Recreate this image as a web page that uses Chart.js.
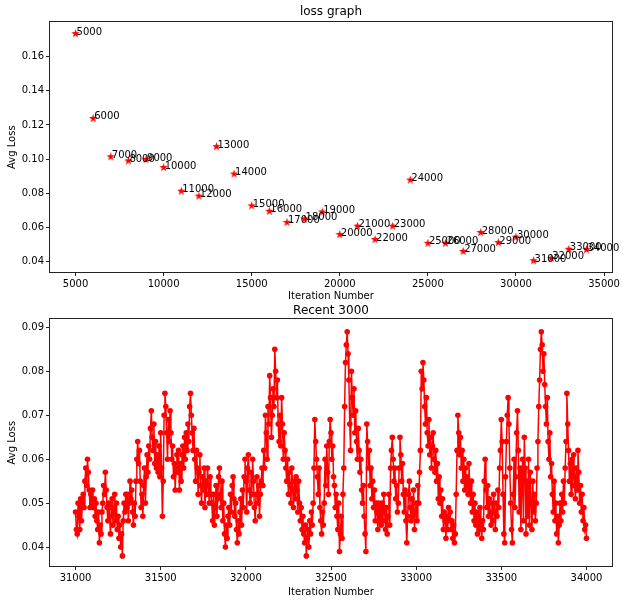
<!DOCTYPE html>
<html>
<head>
<meta charset="utf-8">
<script src="https://cdn.jsdelivr.net/npm/chart.js@4.4.0/dist/chart.umd.min.js"></script>
<style>
  body { margin: 0; background: #fff; }
  #wrap { position: relative; width: 623px; height: 604px; }
  canvas { position: absolute; left: 0; }
  #lossChart { top: 0; }
  #recentChart { top: 304px; }
</style>
</head>
<body>
<div id="wrap">
  <canvas id="lossChart" width="623" height="304"></canvas>
  <canvas id="recentChart" width="623" height="300"></canvas>
</div>
<script>
// top plot: avg loss every 1000 iterations
const lossIters = [5000, 6000, 7000, 8000, 9000, 10000, 11000, 12000, 13000, 14000,
  15000, 16000, 17000, 18000, 19000, 20000, 21000, 22000, 23000, 24000,
  25000, 26000, 27000, 28000, 29000, 30000, 31000, 32000, 33000, 34000];
const lossValues = [0.1734, 0.1238, 0.1014, 0.0990, 0.0998, 0.0951, 0.0813, 0.0784, 0.1073, 0.0913,
  0.0727, 0.0695, 0.0630, 0.0650, 0.0691, 0.0559, 0.0608, 0.0530, 0.0608, 0.0878,
  0.0508, 0.0508, 0.0461, 0.0571, 0.0512, 0.0544, 0.0406, 0.0420, 0.0473, 0.0471];
const lossXTicks = [5000, 10000, 15000, 20000, 25000, 30000, 35000];
const lossYTicks = [0.04, 0.06, 0.08, 0.10, 0.12, 0.14, 0.16];

// bottom plot: last 3000 iterations, one reading every 5 iterations (20 per row)
const recentStart = 31000;
const recentStep = 5;
const recentLoss = [
  .048, .044, .043, .050, .047, .044, .051, .046, .050, .052, .049, .055, .058, .054, .060, .057, .053, .049, .052, .050, // 31000
  .053, .049, .051, .047, .050, .046, .044, .048, .041, .045, .043, .048, .050, .054, .052, .057, .053, .049, .046, .050,
  .047, .043, .049, .051, .045, .048, .052, .046, .050, .044, .047, .042, .045, .040, .043, .038, .046, .050, .048, .052,
  .049, .052, .046, .050, .055, .051, .053, .048, .045, .050, .047, .055, .060, .064, .059, .062, .055, .049, .052, .047,
  .054, .058, .050, .056, .061, .057, .063, .060, .067, .071, .065, .062, .068, .059, .064, .058, .061, .057, .063, .056,
  .066, .058, .047, .055, .070, .075, .072, .066, .060, .069, .064, .071, .066, .060, .063, .056, .059, .053, .058, .061, // 31500
  .057, .062, .053, .059, .055, .061, .063, .058, .065, .060, .066, .062, .068, .064, .072, .075, .070, .066, .062, .067,
  .060, .055, .062, .058, .052, .057, .061, .054, .050, .056, .053, .058, .049, .055, .052, .058, .054, .050, .056, .052,
  .050, .046, .052, .045, .049, .054, .047, .051, .056, .058, .052, .049, .055, .046, .050, .043, .040, .045, .042, .047,
  .049, .045, .052, .048, .054, .056, .051, .047, .050, .044, .041, .046, .043, .048, .051, .045, .053, .049, .056, .060,
  .055, .048, .058, .061, .053, .050, .057, .052, .060, .055, .049, .046, .052, .056, .050, .054, .047, .052, .055, .058, // 32000
  .054, .062, .058, .070, .066, .060, .072, .068, .079, .074, .065, .070, .076, .072, .085, .080, .074, .078, .068, .064,
  .070, .063, .074, .068, .060, .066, .062, .058, .055, .060, .052, .057, .054, .050, .058, .053, .049, .055, .051, .056,
  .053, .048, .055, .050, .046, .049, .044, .047, .043, .041, .045, .038, .042, .044, .040, .046, .043, .048, .045, .050,
  .058, .069, .064, .060, .056, .052, .058, .049, .046, .043, .048, .045, .050, .060, .054, .063, .057, .052, .064, .069,
  .066, .060, .063, .056, .054, .049, .052, .047, .044, .050, .039, .043, .047, .042, .052, .058, .072, .082, .086, .089, // 32500
  .084, .078, .068, .062, .080, .074, .070, .076, .066, .071, .064, .060, .067, .062, .057, .060, .053, .050, .054, .047,
  .043, .039, .068, .064, .058, .062, .054, .058, .051, .055, .049, .053, .046, .050, .048, .044, .050, .046, .049, .045,
  .050, .046, .052, .048, .044, .049, .043, .047, .052, .045, .058, .062, .065, .060, .055, .058, .051, .054, .048, .050,
  .058, .065, .061, .055, .059, .052, .048, .053, .046, .041, .047, .052, .055, .049, .046, .051, .047, .053, .044, .048,
  .050, .046, .054, .050, .057, .062, .080, .076, .082, .078, .072, .068, .074, .066, .063, .069, .061, .065, .058, .063, // 33000
  .066, .060, .057, .062, .055, .059, .051, .056, .050, .053, .047, .051, .044, .048, .046, .042, .047, .044, .049, .046,
  .048, .044, .046, .042, .045, .041, .043, .052, .062, .070, .066, .061, .065, .058, .062, .055, .060, .053, .058, .054,
  .056, .052, .059, .054, .050, .055, .048, .052, .046, .050, .045, .048, .043, .047, .044, .049, .045, .042, .046, .044,
  .055, .060, .053, .049, .054, .047, .051, .048, .045, .050, .046, .052, .048, .044, .050, .047, .053, .049, .058, .062,
  .069, .064, .052, .043, .041, .056, .064, .070, .074, .068, .058, .050, .044, .041, .052, .060, .049, .056, .066, .071, // 33500
  .062, .048, .058, .044, .054, .060, .046, .065, .058, .043, .055, .047, .060, .045, .057, .050, .044, .055, .048, .052,
  .046, .050, .058, .064, .072, .078, .085, .089, .086, .080, .084, .077, .072, .068, .074, .064, .060, .066, .056, .059,
  .052, .048, .055, .046, .050, .043, .047, .041, .045, .050, .046, .052, .048, .055, .050, .058, .064, .075, .068, .062,
  .055, .059, .052, .060, .054, .061, .056, .051, .058, .053, .062, .057, .050, .054, .048, .052, .046, .049, .044, .045,
  .042 // 34000
];
const recentXTicks = [31000, 31500, 32000, 32500, 33000, 33500, 34000];
const recentYTicks = [0.04, 0.05, 0.06, 0.07, 0.08, 0.09];

Chart.defaults.font.family = "'DejaVu Sans', sans-serif";
Chart.defaults.color = "#000";

// filled 5-point star like matplotlib's '*'
function starImage(size, color) {
  const c = document.createElement("canvas");
  c.width = c.height = size;
  const g = c.getContext("2d");
  const r = size / 2;
  g.beginPath();
  for (let k = 0; k < 10; k++) {
    const rad = k % 2 ? r * 0.4 : r;
    const ang = -Math.PI / 2 + (k * Math.PI) / 5;
    g.lineTo(r + rad * Math.cos(ang), r + rad * Math.sin(ang));
  }
  g.closePath();
  g.fillStyle = color;
  g.fill();
  return c;
}

// box around the plot area (all four spines)
const frame = {
  id: "frame",
  afterDraw(chart) {
    const { ctx, chartArea: a } = chart;
    ctx.save();
    ctx.strokeStyle = "#222";
    ctx.lineWidth = 1;
    ctx.strokeRect(Math.round(a.left) - 0.5, Math.round(a.top) - 0.5,
      Math.round(a.right - a.left) + 1, Math.round(a.bottom - a.top) + 1);
    ctx.restore();
  }
};

// iteration number written next to every star
const pointLabels = {
  id: "pointLabels",
  afterDatasetsDraw(chart) {
    const { ctx } = chart;
    const meta = chart.getDatasetMeta(0);
    ctx.save();
    ctx.font = "10px 'DejaVu Sans'";
    ctx.fillStyle = "#000";
    ctx.textAlign = "left";
    ctx.textBaseline = "alphabetic";
    meta.data.forEach((pt, i) => ctx.fillText(String(lossIters[i]), pt.x + 1, pt.y + 1));
    ctx.restore();
  }
};

function axis(min, max, ticks, label, fmt, size, titlePad) {
  return {
    type: "linear",
    min: min,
    max: max,
    afterBuildTicks: (s) => { s.ticks = ticks.map((v) => ({ value: v })); },
    afterFit: (s) => { if (s.isHorizontal()) s.height = size; else s.width = size; },
    ticks: { color: "#000", font: { size: 10 }, padding: 2, maxRotation: 0, autoSkip: false,
      callback: fmt },
    grid: { drawOnChartArea: false, drawTicks: true, tickLength: 4, color: "#222" },
    border: { display: false },
    title: { display: true, text: label, color: "#000", font: { size: 10 }, padding: titlePad }
  };
}

const fmtX = (v) => String(v);
const fmtY = (v) => v.toFixed(2);

function titleOpts(text, pad) {
  return { display: true, text: text, color: "#000", fullSize: false,
    font: { size: 12, weight: "normal" }, padding: pad };
}

new Chart(document.getElementById("lossChart"), {
  type: "scatter",
  data: {
    datasets: [{
      data: lossIters.map((x, i) => ({ x: x, y: lossValues[i] })),
      pointStyle: starImage(9, "#ff0000"),
      pointRadius: 4
    }]
  },
  options: {
    responsive: false,
    animation: false,
    layout: { padding: { left: 0, right: 11, top: 0, bottom: 0 } },
    plugins: {
      legend: { display: false },
      tooltip: { enabled: false },
      title: titleOpts("loss graph", { top: 5, bottom: 3 })
    },
    scales: {
      x: axis(3550, 35450, lossXTicks, "Iteration Number", fmtX, 32, { top: 0, bottom: 2 }),
      y: axis(0.0340, 0.1800, lossYTicks, "Avg Loss", fmtY, 50, { top: 6, bottom: 0 })
    }
  },
  plugins: [frame, pointLabels]
});

new Chart(document.getElementById("recentChart"), {
  type: "line",
  data: {
    datasets: [{
      data: recentLoss.map((v, i) => ({ x: recentStart + i * recentStep, y: v })),
      borderColor: "#ff0000",
      borderWidth: 1.5,
      backgroundColor: "#ff0000",
      pointRadius: 2.8,
      pointBorderWidth: 0,
      tension: 0
    }]
  },
  options: {
    responsive: false,
    animation: false,
    layout: { padding: { left: 0, right: 11, top: 0, bottom: 0 } },
    plugins: {
      legend: { display: false },
      tooltip: { enabled: false },
      title: titleOpts("Recent 3000", { top: 0, bottom: 1 })
    },
    scales: {
      x: axis(30850, 34150, recentXTicks, "Iteration Number", fmtX, 38, { top: 0, bottom: 6 }),
      y: axis(0.0357, 0.0918, recentYTicks, "Avg Loss", fmtY, 50, { top: 6, bottom: 0 })
    }
  },
  plugins: [frame]
});
</script>
</body>
</html>
